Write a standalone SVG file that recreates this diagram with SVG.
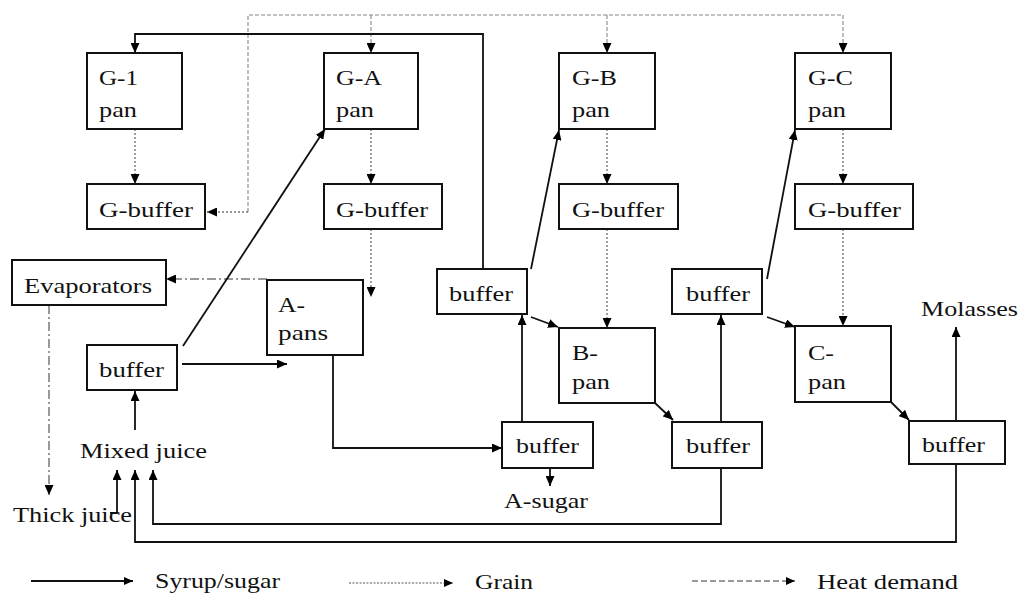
<svg xmlns="http://www.w3.org/2000/svg" width="1021" height="595" viewBox="0 0 1021 595">
  <style>
    .box { fill: #fff; stroke: #111; stroke-width: 2; }
    .lbl { font-family: "Liberation Serif", "Times New Roman", serif; font-size: 22px; fill: #111; }
    .syrup { fill: none; stroke: #111; stroke-width: 1.8; }
    .grain { fill: none; stroke: #777; stroke-width: 1.4; stroke-dasharray: 2 2; }
    .heat { fill: none; stroke: #888; stroke-width: 1.1; stroke-dasharray: 4 2; }
    .heatdd { fill: none; stroke: #999; stroke-width: 2; stroke-dasharray: 9 3 2 3; }
    .legheat { fill: none; stroke: #999; stroke-width: 2; stroke-dasharray: 6 3; }
    .leggrain { fill: none; stroke: #555; stroke-width: 1; stroke-dasharray: 2 1.5; }
  </style>
  <defs>
    <marker id="ah" markerWidth="10" markerHeight="9" refX="10" refY="4.5" orient="auto" markerUnits="userSpaceOnUse">
      <path d="M0,0 L10,4.5 L0,9 Z" fill="#000"/>
    </marker>
    <marker id="ahs" markerWidth="9" markerHeight="8" refX="9" refY="4" orient="auto" markerUnits="userSpaceOnUse">
      <path d="M0,0 L9,4 L0,8 Z" fill="#000"/>
    </marker>
  </defs>

  <!-- connectors -->
  <g id="connectors">
    <!-- heat demand distribution -->
    <path class="heat" d="M248,212 V15 H843 V53" marker-end="url(#ah)"/>
    <path class="heat" d="M371,15 V53" marker-end="url(#ah)"/>
    <path class="heat" d="M607,15 V53" marker-end="url(#ah)"/>
    <path class="grain" d="M248,212 H207" marker-end="url(#ah)"/>

    <!-- grain: pans to G-buffers -->
    <path class="grain" d="M135,129 V184" marker-end="url(#ah)"/>
    <path class="grain" d="M371,129 V184" marker-end="url(#ah)"/>
    <path class="grain" d="M607,129 V184" marker-end="url(#ah)"/>
    <path class="grain" d="M843,129 V184" marker-end="url(#ah)"/>
    <!-- grain: G-buffers to crystallisation pans -->
    <path class="grain" d="M371,229 V297" marker-end="url(#ah)"/>
    <path class="grain" d="M607,229 V328" marker-end="url(#ah)"/>
    <path class="grain" d="M843,229 V326" marker-end="url(#ah)"/>

    <!-- dash-dot heat paths -->
    <path class="heatdd" d="M267,279 H166" marker-end="url(#ah)"/>
    <path class="heatdd" d="M49,305 V495" marker-end="url(#ah)"/>

    <!-- syrup / sugar -->
    <path class="syrup" d="M483,269 V34 H135 V53" marker-end="url(#ah)"/>
    <path class="syrup" d="M183,346 L325,129" marker-end="url(#ah)"/>
    <path class="syrup" d="M182,364 H287" marker-end="url(#ah)"/>
    <path class="syrup" d="M135,430 V391" marker-end="url(#ah)"/>
    <path class="syrup" d="M333,355 V448 H502" marker-end="url(#ah)"/>
    <path class="syrup" d="M522,422 V315" marker-end="url(#ah)"/>
    <path class="syrup" d="M550,468 V486" marker-end="url(#ah)"/>
    <path class="syrup" d="M531,269 L559,130" marker-end="url(#ah)"/>
    <path class="syrup" d="M531,317 L558,327" marker-end="url(#ah)"/>
    <path class="syrup" d="M655,403 L673,420" marker-end="url(#ah)"/>
    <path class="syrup" d="M721,422 V315" marker-end="url(#ah)"/>
    <path class="syrup" d="M767,279 L795,130" marker-end="url(#ah)"/>
    <path class="syrup" d="M767,317 L795,327" marker-end="url(#ah)"/>
    <path class="syrup" d="M891,402 L909,420" marker-end="url(#ah)"/>
    <path class="syrup" d="M956,421 V327" marker-end="url(#ah)"/>
    <path class="syrup" d="M721,468 V524 H153 V470" marker-end="url(#ah)"/>
    <path class="syrup" d="M956,464 V542 H135 V470" marker-end="url(#ah)"/>
    <path class="syrup" d="M110,513 H117 V470" marker-end="url(#ah)"/>
  </g>

  <!-- nodes -->
  <g id="g1-pan">
    <rect class="box" x="87" y="53" width="95" height="76"/>
    <text class="lbl" x="99" y="85" textLength="39" lengthAdjust="spacingAndGlyphs">G-1</text>
    <text class="lbl" x="99" y="117" textLength="38" lengthAdjust="spacingAndGlyphs">pan</text>
  </g>
  <g id="ga-pan">
    <rect class="box" x="324" y="53" width="94" height="76"/>
    <text class="lbl" x="336" y="85" textLength="46" lengthAdjust="spacingAndGlyphs">G-A</text>
    <text class="lbl" x="336" y="117" textLength="38" lengthAdjust="spacingAndGlyphs">pan</text>
  </g>
  <g id="gb-pan">
    <rect class="box" x="559" y="53" width="96" height="76"/>
    <text class="lbl" x="572" y="85" textLength="45" lengthAdjust="spacingAndGlyphs">G-B</text>
    <text class="lbl" x="572" y="117" textLength="38" lengthAdjust="spacingAndGlyphs">pan</text>
  </g>
  <g id="gc-pan">
    <rect class="box" x="795" y="53" width="96" height="76"/>
    <text class="lbl" x="808" y="85" textLength="45" lengthAdjust="spacingAndGlyphs">G-C</text>
    <text class="lbl" x="808" y="117" textLength="38" lengthAdjust="spacingAndGlyphs">pan</text>
  </g>

  <g id="g1-buffer">
    <rect class="box" x="87" y="184" width="118" height="45"/>
    <text class="lbl" x="99" y="217" textLength="94" lengthAdjust="spacingAndGlyphs">G-buffer</text>
  </g>
  <g id="ga-buffer">
    <rect class="box" x="324" y="184" width="118" height="45"/>
    <text class="lbl" x="336" y="217" textLength="92" lengthAdjust="spacingAndGlyphs">G-buffer</text>
  </g>
  <g id="gb-buffer">
    <rect class="box" x="559" y="184" width="119" height="45"/>
    <text class="lbl" x="572" y="217" textLength="92" lengthAdjust="spacingAndGlyphs">G-buffer</text>
  </g>
  <g id="gc-buffer">
    <rect class="box" x="795" y="184" width="118" height="45"/>
    <text class="lbl" x="808" y="217" textLength="93" lengthAdjust="spacingAndGlyphs">G-buffer</text>
  </g>

  <g id="evaporators">
    <rect class="box" x="12" y="260" width="154" height="45"/>
    <text class="lbl" x="24" y="293" textLength="128" lengthAdjust="spacingAndGlyphs">Evaporators</text>
  </g>
  <g id="a-pans">
    <rect class="box" x="267" y="280" width="96" height="75"/>
    <text class="lbl" x="278" y="312" textLength="27" lengthAdjust="spacingAndGlyphs">A-</text>
    <text class="lbl" x="278" y="340" textLength="50" lengthAdjust="spacingAndGlyphs">pans</text>
  </g>
  <g id="b-pan">
    <rect class="box" x="559" y="328" width="96" height="75"/>
    <text class="lbl" x="572" y="360" textLength="26" lengthAdjust="spacingAndGlyphs">B-</text>
    <text class="lbl" x="572" y="389" textLength="38" lengthAdjust="spacingAndGlyphs">pan</text>
  </g>
  <g id="c-pan">
    <rect class="box" x="795" y="326" width="96" height="76"/>
    <text class="lbl" x="808" y="360" textLength="26" lengthAdjust="spacingAndGlyphs">C-</text>
    <text class="lbl" x="808" y="389" textLength="38" lengthAdjust="spacingAndGlyphs">pan</text>
  </g>

  <g id="juice-buffer">
    <rect class="box" x="87" y="345" width="90" height="45"/>
    <text class="lbl" x="99" y="377" textLength="65" lengthAdjust="spacingAndGlyphs">buffer</text>
  </g>
  <g id="a-sugar-buffer">
    <rect class="box" x="502" y="422" width="91" height="46"/>
    <text class="lbl" x="516" y="453" textLength="63" lengthAdjust="spacingAndGlyphs">buffer</text>
  </g>
  <g id="a-syrup-buffer">
    <rect class="box" x="437" y="269" width="90" height="45"/>
    <text class="lbl" x="449" y="301" textLength="64" lengthAdjust="spacingAndGlyphs">buffer</text>
  </g>
  <g id="b-sugar-buffer">
    <rect class="box" x="672" y="422" width="90" height="46"/>
    <text class="lbl" x="686" y="453" textLength="64" lengthAdjust="spacingAndGlyphs">buffer</text>
  </g>
  <g id="b-syrup-buffer">
    <rect class="box" x="672" y="269" width="90" height="45"/>
    <text class="lbl" x="686" y="301" textLength="64" lengthAdjust="spacingAndGlyphs">buffer</text>
  </g>
  <g id="c-sugar-buffer">
    <rect class="box" x="909" y="421" width="96" height="43"/>
    <text class="lbl" x="922" y="452" textLength="63" lengthAdjust="spacingAndGlyphs">buffer</text>
  </g>

  <g id="mixed-juice">
    <text class="lbl" x="80" y="458" textLength="127" lengthAdjust="spacingAndGlyphs">Mixed juice</text>
  </g>
  <g id="thick-juice">
    <text class="lbl" x="13" y="522" textLength="119" lengthAdjust="spacingAndGlyphs">Thick juice</text>
  </g>
  <g id="a-sugar">
    <text class="lbl" x="504" y="508" textLength="84" lengthAdjust="spacingAndGlyphs">A-sugar</text>
  </g>
  <g id="molasses">
    <text class="lbl" x="921" y="316" textLength="97" lengthAdjust="spacingAndGlyphs">Molasses</text>
  </g>

  <!-- legend -->
  <g id="legend">
    <path class="syrup" d="M31,581 H133" marker-end="url(#ahs)"/>
    <text class="lbl" x="155" y="588" textLength="125" lengthAdjust="spacingAndGlyphs">Syrup/sugar</text>
    <path class="leggrain" d="M349,583 H453" marker-end="url(#ahs)"/>
    <text class="lbl" x="475" y="589" textLength="58" lengthAdjust="spacingAndGlyphs">Grain</text>
    <path class="legheat" d="M692,581 H795" marker-end="url(#ahs)"/>
    <text class="lbl" x="817" y="589" textLength="141" lengthAdjust="spacingAndGlyphs">Heat demand</text>
  </g>
</svg>
